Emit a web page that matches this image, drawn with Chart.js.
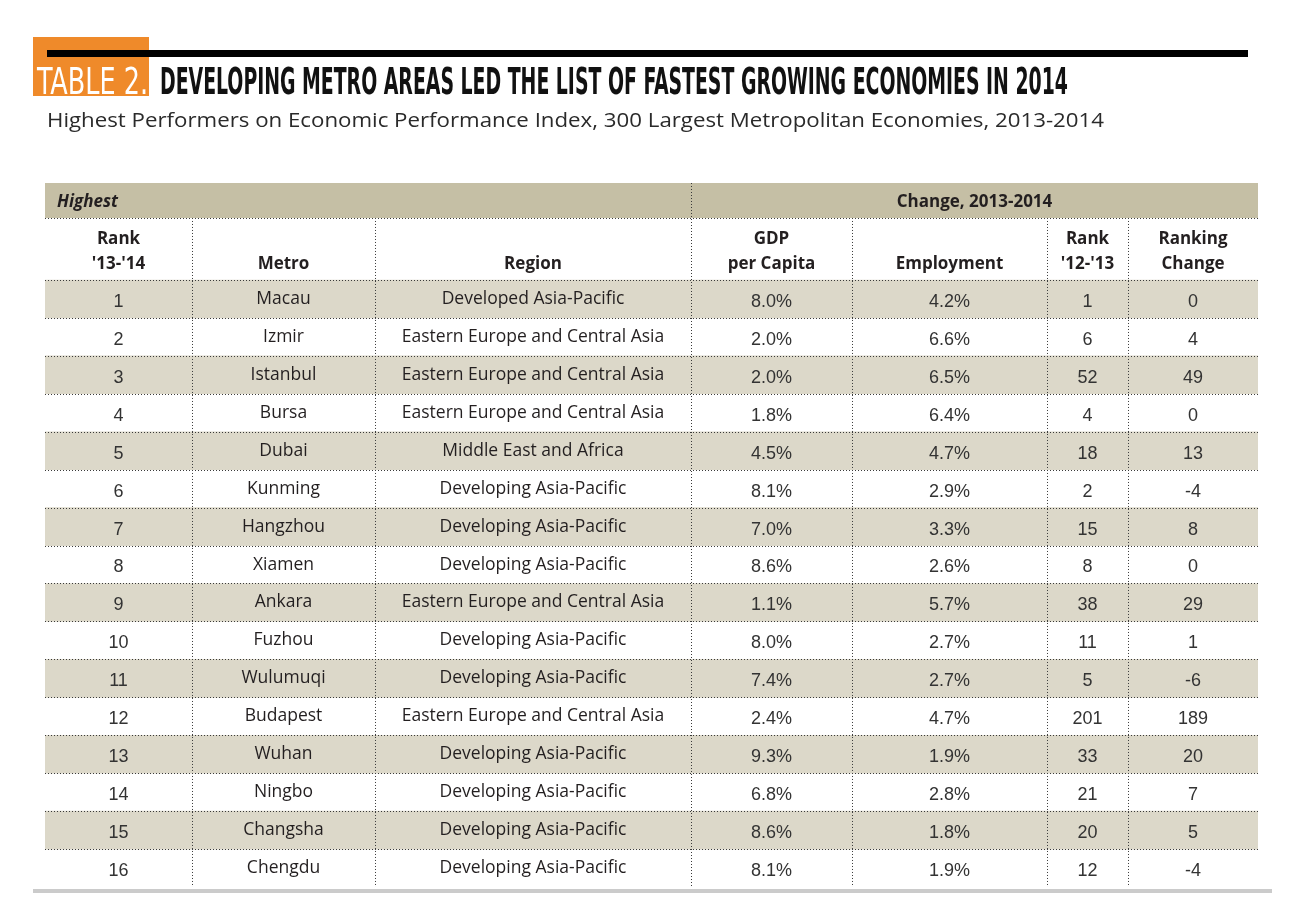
<!DOCTYPE html>
<html>
<head>
<meta charset="utf-8">
<title>Table 2</title>
<script src="https://cdn.jsdelivr.net/npm/chart.js@4"></script>
<style>
  html, body { margin: 0; padding: 0; background: #fff; }
  #wrap { width: 1300px; height: 917px; }
</style>
</head>
<body>
<div id="wrap"><canvas id="table2" width="1300" height="917"></canvas></div>
<script>
// table data
const ranks = [1, 2, 3, 4, 5, 6, 7, 8, 9, 10, 11, 12, 13, 14, 15, 16];
const metros = ['Macau', 'Izmir', 'Istanbul', 'Bursa', 'Dubai', 'Kunming', 'Hangzhou', 'Xiamen',
  'Ankara', 'Fuzhou', 'Wulumuqi', 'Budapest', 'Wuhan', 'Ningbo', 'Changsha', 'Chengdu'];
const regions = ['Developed Asia-Pacific', 'Eastern Europe and Central Asia', 'Eastern Europe and Central Asia',
  'Eastern Europe and Central Asia', 'Middle East and Africa', 'Developing Asia-Pacific', 'Developing Asia-Pacific',
  'Developing Asia-Pacific', 'Eastern Europe and Central Asia', 'Developing Asia-Pacific', 'Developing Asia-Pacific',
  'Eastern Europe and Central Asia', 'Developing Asia-Pacific', 'Developing Asia-Pacific', 'Developing Asia-Pacific',
  'Developing Asia-Pacific'];
const gdpPerCapita = [8.0, 2.0, 2.0, 1.8, 4.5, 8.1, 7.0, 8.6, 1.1, 8.0, 7.4, 2.4, 9.3, 6.8, 8.6, 8.1];
const employment = [4.2, 6.6, 6.5, 6.4, 4.7, 2.9, 3.3, 2.6, 5.7, 2.7, 2.7, 4.7, 1.9, 2.8, 1.8, 1.9];
const rankPrev = [1, 6, 52, 4, 18, 2, 15, 8, 38, 11, 5, 201, 33, 21, 20, 12];
const rankChange = [0, 4, 49, 0, 13, -4, 8, 0, 29, 1, -6, 189, 20, 7, 5, -4];

const columnHeads = [['Rank', "'13-'14"], ['Metro'], ['Region'], ['GDP', 'per Capita'],
  ['Employment'], ['Rank', "'12-'13"], ['Ranking', 'Change']];
const groupHeads = ['Highest', 'Change, 2013-2014'];

const TITLE_TAG = 'TABLE 2.';
const TITLE = 'DEVELOPING METRO AREAS LED THE LIST OF FASTEST GROWING ECONOMIES IN 2014';
const SUBTITLE = 'Highest Performers on Economic Performance Index, 300 Largest Metropolitan Economies, 2013-2014';

// layout (x in table units, y in row units)
const COL_EDGES = [0, 147, 330, 646, 807, 1002, 1083, 1213];
const BAND_TOP = -2.556;
const BAND_BOTTOM = -1.634;

const ORANGE = '#ef8a2a';
const BAND = '#c5bfa5';
const SHADE = '#dcd8c9';
const INK = '#231f20';

function fitText(ctx, text, x, y, width, font, color) {
  ctx.save();
  ctx.font = font;
  ctx.fillStyle = color;
  ctx.textAlign = 'left';
  ctx.textBaseline = 'alphabetic';
  const w = ctx.measureText(text).width;
  ctx.translate(x, y);
  ctx.scale(width / w, 1);
  ctx.fillText(text, 0, 0);
  ctx.restore();
}

function dotted(ctx, x1, y1, x2, y2) {
  ctx.beginPath();
  ctx.moveTo(x1, y1);
  ctx.lineTo(x2, y2);
  ctx.stroke();
}

const tablePlugin = {
  id: 'tablePlugin',
  beforeDatasetsDraw(chart) {
    const ctx = chart.ctx;
    const ys = chart.scales.y;
    const area = chart.chartArea;

    // heading block
    ctx.save();
    ctx.fillStyle = ORANGE;
    ctx.fillRect(33, 37, 116, 59);
    ctx.fillStyle = '#000';
    ctx.fillRect(47, 50, 1201, 7);
    ctx.restore();
    fitText(ctx, TITLE_TAG, 37, 94, 111, '37px "Liberation Sans Narrow", "DejaVu Sans Condensed", "Liberation Sans"', '#fff');
    fitText(ctx, TITLE, 160, 94, 908, 'bold 37px "Liberation Sans Narrow", "DejaVu Sans Condensed", "Liberation Sans"', '#111');
    fitText(ctx, SUBTITLE, 47, 127, 1057, '20px "Open Sans", "Noto Sans", sans-serif', '#2a2a2a');

    // header band
    const bTop = ys.getPixelForValue(BAND_TOP);
    const bBot = ys.getPixelForValue(BAND_BOTTOM);
    ctx.save();
    ctx.fillStyle = BAND;
    ctx.fillRect(area.left, bTop, area.right - area.left, bBot - bTop);
    // shadow line under the table
    ctx.fillStyle = '#cbcbcb';
    ctx.fillRect(33, area.bottom + 2, 1239, 4);
    ctx.restore();
  },
  afterDatasetsDraw(chart) {
    const ctx = chart.ctx;
    const xs = chart.scales.x, ys = chart.scales.y;
    const area = chart.chartArea;
    const bTop = ys.getPixelForValue(BAND_TOP);
    const bBot = ys.getPixelForValue(BAND_BOTTOM);
    const hBot = ys.getPixelForValue(0);

    // dotted rules
    ctx.save();
    ctx.strokeStyle = '#3a3a3a';
    ctx.lineWidth = 1;
    ctx.setLineDash([1, 2]);
    const hLines = [BAND_BOTTOM, 0].concat(ranks.slice(0, -1));
    hLines.forEach(v => {
      const y = Math.round(ys.getPixelForValue(v)) + 0.5;
      dotted(ctx, area.left, y, area.right, y);
    });
    COL_EDGES.slice(1, -1).forEach((e, i) => {
      const x = Math.round(xs.getPixelForValue(e)) + 0.5;
      const top = i === 2 ? bTop : bBot;
      dotted(ctx, x, top, x, area.bottom);
    });
    ctx.restore();

    // group headings
    ctx.save();
    ctx.fillStyle = INK;
    ctx.textBaseline = 'middle';
    ctx.font = 'italic bold 17px "Open Sans", sans-serif';
    ctx.textAlign = 'left';
    const bMid = (bTop + bBot) / 2 + 2;
    ctx.fillText(groupHeads[0], area.left + 12, bMid);
    ctx.font = 'bold 17px "Open Sans", sans-serif';
    ctx.textAlign = 'center';
    ctx.fillText(groupHeads[1], (xs.getPixelForValue(COL_EDGES[3]) + area.right) / 2, bMid);

    // column headings
    ctx.textBaseline = 'alphabetic';
    columnHeads.forEach((lines, c) => {
      const cx = xs.getPixelForValue((COL_EDGES[c] + COL_EDGES[c + 1]) / 2);
      lines.slice().reverse().forEach((t, k) => {
        ctx.fillText(t, cx, hBot - 11 - k * 25);
      });
    });

    // body cells
    ranks.forEach((r, i) => {
      const cy = ys.getPixelForValue(r - 0.5);
      const cells = [String(r), metros[i], regions[i], gdpPerCapita[i].toFixed(1) + '%',
        employment[i].toFixed(1) + '%', String(rankPrev[i]), String(rankChange[i])];
      cells.forEach((t, c) => {
        const cx = xs.getPixelForValue((COL_EDGES[c] + COL_EDGES[c + 1]) / 2);
        ctx.textBaseline = 'middle';
        if (c === 1 || c === 2) {
          ctx.font = '17.5px "Open Sans", sans-serif';
          ctx.fillStyle = INK;
          ctx.fillText(t, cx, cy);
        } else {
          ctx.font = '18px "Liberation Sans", Arial, sans-serif';
          ctx.fillStyle = '#333';
          ctx.fillText(t, cx, cy + 3);
        }
      });
    });
    ctx.restore();
  }
};

new Chart(document.getElementById('table2'), {
  type: 'bar',
  data: {
    datasets: [{
      label: 'rows',
      data: ranks.map(r => ({ x: [COL_EDGES[0], COL_EDGES[COL_EDGES.length - 1]], y: r - 0.5 })),
      backgroundColor: ctx => (ranks[ctx.dataIndex] % 2 ? SHADE : 'rgba(255,255,255,0)'),
      borderWidth: 0,
      borderSkipped: false,
      categoryPercentage: 1,
      barPercentage: 1
    }]
  },
  options: {
    indexAxis: 'y',
    responsive: false,
    animation: false,
    events: [],
    layout: { padding: { left: 45, right: 42, top: 183, bottom: 30 } },
    scales: {
      x: { type: 'linear', min: COL_EDGES[0], max: COL_EDGES[COL_EDGES.length - 1], offset: false, display: false },
      y: {
        type: 'linear', reverse: true, min: BAND_TOP, max: ranks.length, offset: false, display: false,
        // one tick per row centre so the bars fill a whole row
        afterBuildTicks: scale => { scale.ticks = ranks.map(r => ({ value: r - 0.5 })); }
      }
    },
    plugins: {
      legend: { display: false },
      tooltip: { enabled: false }
    }
  },
  plugins: [tablePlugin]
});
</script>
</body>
</html>
